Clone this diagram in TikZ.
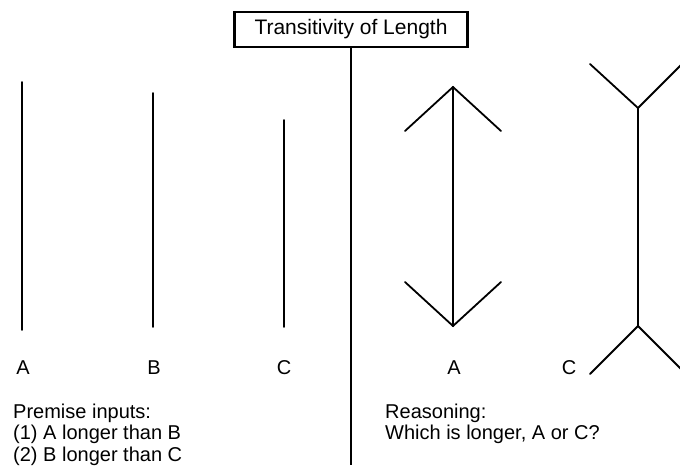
\documentclass[tikz,border=0pt]{standalone}
\usepackage{fontspec}
\setmainfont{Liberation Sans}
\begin{document}
\begin{tikzpicture}[x=1pt,y=-1pt,
  bar/.style={line width=1.8pt,line cap=round},
  txt/.style={font=\fontsize{20}{22}\selectfont,inner sep=0pt},
  lbl/.style={txt,anchor=base}]
\useasboundingbox (0,0) rectangle (680,474);
\node[draw,line width=2.8pt,minimum width=233pt,minimum height=35pt,inner sep=0pt,font=\fontsize{21}{24}\selectfont] (title) at (351,29.5) {Transitivity of Length};
\coordinate (divb) at (351,465);
\draw[line width=1.8pt] (title.south -| divb) -- (divb);
% left lines
\coordinate (a1) at (22,82); \coordinate (a2) at (22,330);
\coordinate (b1) at (153,93); \coordinate (b2) at (153,327);
\coordinate (c1) at (284,120); \coordinate (c2) at (284,327);
\draw[bar] (a1) -- (a2);
\draw[bar] (b1) -- (b2);
\draw[bar] (c1) -- (c2);
\node[lbl] (la) at (23,374) {A};
\node[lbl] (lb) at (154,374) {B};
\node[lbl] (lc) at (284,374) {C};
% right A: arrows
\coordinate (ra1) at (453,87); \coordinate (ra2) at (453,326);
\draw[bar] (ra1) -- (ra2);
\draw[bar,line join=miter] (405,131) -- (ra1) -- (501,131);
\draw[bar,line join=miter] (405,282) -- (ra2) -- (501,282);
\node[lbl] (lra) at (454,374) {A};
% right C: fins
\coordinate (rc1) at (638,108); \coordinate (rc2) at (638,326);
\draw[bar] (rc1) -- (rc2);
\draw[bar] (590,64) -- (rc1) -- (686,60);
\draw[bar] (590,374) -- (rc2) -- (686,374);
\node[lbl] (lrc) at (569,374) {C};
% texts
\node[txt,anchor=base west] (p1) at (13,418) {Premise inputs:};
\node[txt,anchor=base west] (p2) at (13,439.5) {(1) A longer than B};
\node[txt,anchor=base west] (p3) at (13,461) {(2) B longer than C};
\node[txt,anchor=base west] (r1) at (385,418) {Reasoning:};
\node[txt,anchor=base west] (r2) at (385,439.5) {Which is longer, A or C?};
\end{tikzpicture}
\end{document}
